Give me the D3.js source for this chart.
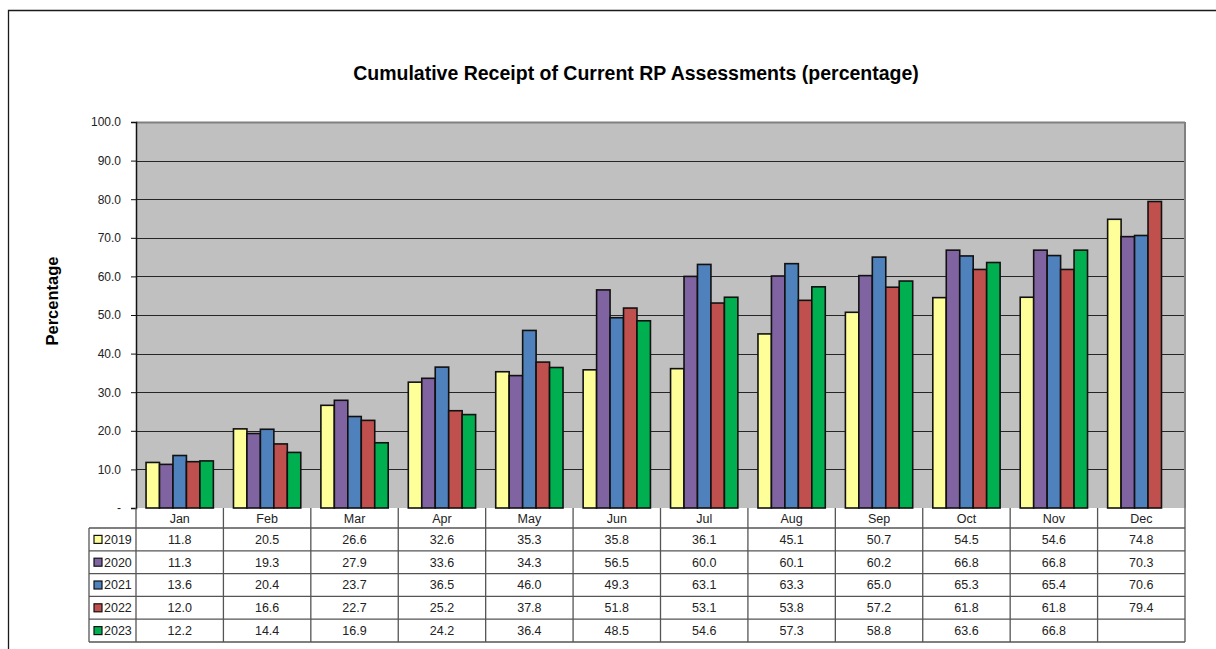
<!DOCTYPE html>
<html>
<head>
<meta charset="utf-8">
<script src="https://cdn.jsdelivr.net/npm/d3@7"></script>
<style>
  body { margin: 0; background: #fff; }
  text { font-family: "Liberation Sans", Arial, sans-serif; }
</style>
</head>
<body>
<div id="wrapper"></div>
<script>
const months = ['Jan', 'Feb', 'Mar', 'Apr', 'May', 'Jun', 'Jul', 'Aug', 'Sep', 'Oct', 'Nov', 'Dec']
const years = ['2019', '2020', '2021', '2022', '2023']
const v2019 = [11.8, 20.5, 26.6, 32.6, 35.3, 35.8, 36.1, 45.1, 50.7, 54.5, 54.6, 74.8]
const v2020 = [11.3, 19.3, 27.9, 33.6, 34.3, 56.5, 60.0, 60.1, 60.2, 66.8, 66.8, 70.3]
const v2021 = [13.6, 20.4, 23.7, 36.5, 46.0, 49.3, 63.1, 63.3, 65.0, 65.3, 65.4, 70.6]
const v2022 = [12.0, 16.6, 22.7, 25.2, 37.8, 51.8, 53.1, 53.8, 57.2, 61.8, 61.8, 79.4]
const v2023 = [12.2, 14.4, 16.9, 24.2, 36.4, 48.5, 54.6, 57.3, 58.8, 63.6, 66.8, null]
const yTicks = [0, 10, 20, 30, 40, 50, 60, 70, 80, 90, 100]
const colors = ['#FFFF99', '#8064A2', '#4F81BD', '#C0504D', '#00B050']

const series = years.map((y, i) => ({
  year: y,
  color: colors[i],
  values: [v2019, v2020, v2021, v2022, v2023][i]
}))

const dimensions = {
  width: 1216,
  height: 649,
  plot: { left: 136, right: 1185, top: 122, bottom: 508 },
  rowHeight: 22.8,
  headerHeight: 20,
  legendLeft: 89,
}

const svg = d3.select('#wrapper')
  .append('svg')
    .attr('width', dimensions.width)
    .attr('height', dimensions.height)

// outer frame
svg.append('path')
    .attr('d', 'M8.5,649 L8.5,10.5 L1216,10.5')
    .attr('fill', 'none')
    .attr('stroke', '#1a1a1a')
    .attr('stroke-width', 1.3)

svg.append('text')
    .attr('x', 636)
    .attr('y', 80)
    .attr('text-anchor', 'middle')
    .style('font-size', '19.5px')
    .style('font-weight', 'bold')
    .text('Cumulative Receipt of Current RP Assessments (percentage)')

const p = dimensions.plot

const xScale = d3.scaleBand()
    .domain(months)
    .range([p.left, p.right])

const step = xScale.step()
const innerScale = d3.scaleBand()
    .domain(years)
    .range([step * 0.115, step * 0.885])

const yScale = d3.scaleLinear()
    .domain([0, 100])
    .range([p.bottom, p.top])

// plot background
svg.append('rect')
    .attr('x', p.left)
    .attr('y', p.top)
    .attr('width', p.right - p.left)
    .attr('height', p.bottom - p.top)
    .attr('fill', '#C0C0C0')

// gridlines
svg.append('g')
  .selectAll('line')
  .data(yTicks.filter(d => d > 0))
  .join('line')
    .attr('x1', p.left)
    .attr('x2', p.right)
    .attr('y1', d => Math.round(yScale(d)) + 0.5)
    .attr('y2', d => Math.round(yScale(d)) + 0.5)
    .attr('stroke', d => d === 100 ? '#808080' : '#262626')
    .attr('stroke-width', d => d === 100 ? 2 : 1)

// right plot border
svg.append('line')
    .attr('x1', p.right).attr('x2', p.right)
    .attr('y1', p.top).attr('y2', p.bottom)
    .attr('stroke', '#808080')
    .attr('stroke-width', 2)

// bars
const groups = svg.append('g')
  .selectAll('g')
  .data(series)
  .join('g')
    .attr('fill', d => d.color)

groups.selectAll('rect')
  .data(d => d.values.map((v, i) => ({ v, month: months[i], year: d.year })).filter(d => d.v != null))
  .join('rect')
    .attr('x', d => xScale(d.month) + innerScale(d.year))
    .attr('y', d => yScale(d.v))
    .attr('width', innerScale.bandwidth())
    .attr('height', d => yScale(0) - yScale(d.v))
    .attr('stroke', '#111')
    .attr('stroke-width', 1.6)

// y axis
const yAxisGenerator = d3.axisLeft(yScale)
    .tickValues(yTicks)
    .tickSize(5)
    .tickPadding(10)
    .tickFormat(d => d === 0 ? '-' : d3.format('.1f')(d))

const yAxis = svg.append('g')
    .attr('transform', `translate(${p.left},0)`)
    .call(yAxisGenerator)
yAxis.select('.domain').attr('stroke', '#111').attr('stroke-width', 1.5)
yAxis.selectAll('.tick line').attr('stroke', '#111')
yAxis.selectAll('.tick text')
    .style('font-size', '12px')
    .attr('fill', '#222')
    .attr('font-family', '"Liberation Sans", Arial, sans-serif')

svg.append('text')
    .attr('transform', `translate(58,301) rotate(-90)`)
    .attr('text-anchor', 'middle')
    .style('font-size', '16.5px')
    .style('font-weight', 'bold')
    .text('Percentage')

// data table
const table = svg.append('g')
const rowTop = p.bottom + dimensions.headerHeight
const rh = dimensions.rowHeight
const tableBottom = rowTop + rh * years.length
const lineColor = '#555'

// header cells
table.selectAll('.hdr')
  .data(months)
  .join('text')
    .attr('x', d => xScale(d) + step / 2)
    .attr('y', p.bottom + 14.5)
    .attr('text-anchor', 'middle')
    .style('font-size', '12.5px')
    .attr('fill', '#222')
    .text(d => d)

// horizontal lines
const hLines = d3.range(years.length + 1).map(i => rowTop + i * rh)
table.selectAll('.hl')
  .data(hLines)
  .join('line')
    .attr('x1', dimensions.legendLeft)
    .attr('x2', p.right)
    .attr('y1', d => d)
    .attr('y2', d => d)
    .attr('stroke', lineColor)
    .attr('stroke-width', 1.3)

// vertical lines
table.selectAll('.vl')
  .data(months.map(m => xScale(m)).concat([p.right]))
  .join('line')
    .attr('x1', d => d)
    .attr('x2', d => d)
    .attr('y1', p.bottom)
    .attr('y2', tableBottom)
    .attr('stroke', lineColor)
    .attr('stroke-width', 1.3)

table.append('line')
    .attr('x1', dimensions.legendLeft).attr('x2', dimensions.legendLeft)
    .attr('y1', rowTop).attr('y2', tableBottom)
    .attr('stroke', lineColor)
    .attr('stroke-width', 1.3)

const rows = table.selectAll('.row')
  .data(series)
  .join('g')
    .attr('transform', (d, i) => `translate(0,${rowTop + i * rh})`)

rows.append('rect')
    .attr('x', 94)
    .attr('y', rh / 2 - 4)
    .attr('width', 8)
    .attr('height', 8)
    .attr('fill', d => d.color)
    .attr('stroke', '#111')
    .attr('stroke-width', 1.2)

rows.append('text')
    .attr('x', 104)
    .attr('y', rh / 2 + 4.5)
    .style('font-size', '12.5px')
    .attr('fill', '#222')
    .text(d => d.year)

rows.selectAll('.val')
  .data(d => d.values.map((v, i) => ({ v, month: months[i] })))
  .join('text')
    .attr('x', d => xScale(d.month) + step / 2)
    .attr('y', rh / 2 + 4.5)
    .attr('text-anchor', 'middle')
    .style('font-size', '12.5px')
    .attr('fill', '#222')
    .text(d => d.v == null ? '' : d3.format('.1f')(d.v))
</script>
</body>
</html>
